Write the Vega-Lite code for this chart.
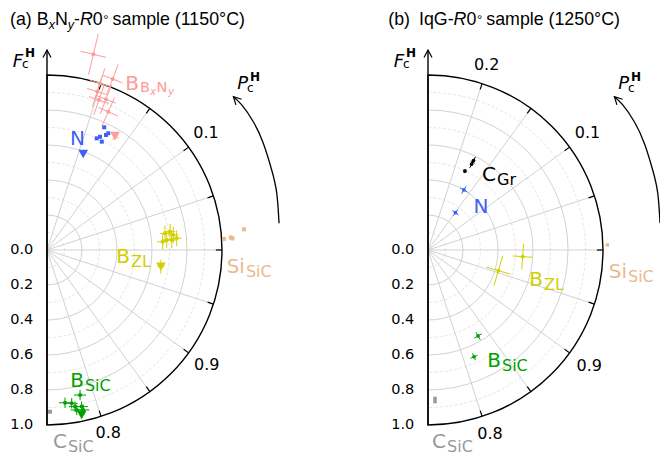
{
"$schema":"https://vega.github.io/schema/vega-lite/v6.json",
"padding":0,"spacing":0,"bounds":"flush","background":"white",
"config":{"view":{"stroke":null}},
"datasets":{
"circ_major":[{"x":0,"y":0,"r":0.2},{"x":0,"y":0,"r":0.4},{"x":0,"y":0,"r":0.6},{"x":0,"y":0,"r":0.8}],
"circ_minor":[{"x":0,"y":0,"r":0.1},{"x":0,"y":0,"r":0.3},{"x":0,"y":0,"r":0.5},{"x":0,"y":0,"r":0.7},{"x":0,"y":0,"r":0.9}],
"circ_outer":[{"x":0,"y":0,"r":1}],
"spokes":[{"x":0,"y":0,"x2":1,"y2":0},{"x":0,"y":0,"x2":0.95106,"y2":0.30902},{"x":0,"y":0,"x2":0.95106,"y2":-0.30902},{"x":0,"y":0,"x2":0.80902,"y2":0.58779},{"x":0,"y":0,"x2":0.80902,"y2":-0.58779},{"x":0,"y":0,"x2":0.58779,"y2":0.80902},{"x":0,"y":0,"x2":0.58779,"y2":-0.80902},{"x":0,"y":0,"x2":0.30902,"y2":0.95106},{"x":0,"y":0,"x2":0.30902,"y2":-0.95106}],
"ticks":[{"x":0.965,"y":0,"x2":1,"y2":0},{"x":0.91777,"y":0.2982,"x2":0.95106,"y2":0.30902},{"x":0.91777,"y":-0.2982,"x2":0.95106,"y2":-0.30902},{"x":0.7807,"y":0.56722,"x2":0.80902,"y2":0.58779},{"x":0.7807,"y":-0.56722,"x2":0.80902,"y2":-0.58779},{"x":0.56722,"y":0.7807,"x2":0.58779,"y2":0.80902},{"x":0.56722,"y":-0.7807,"x2":0.58779,"y2":-0.80902},{"x":0.2982,"y":0.91777,"x2":0.30902,"y2":0.95106},{"x":0.2982,"y":-0.91777,"x2":0.30902,"y2":-0.95106}],
"vaxis":[{"x":0,"y":-1,"x2":0,"y2":1.1429}],
"vtip":[{"x":0,"y":1.1429}],
"curve":[{"i":1,"x":1.326,"y":0.153},{"i":2,"x":1.313,"y":0.324},{"i":3,"x":1.284,"y":0.457},{"i":4,"x":1.236,"y":0.61},{"i":5,"x":1.179,"y":0.733},{"i":6,"x":1.113,"y":0.829},{"i":7,"x":1.065,"y":0.876}],
"ctip":[{"x":1.065,"y":0.876}],
"amp":[{"t":"0.0","x":-0.078,"y":0},{"t":"0.2","x":-0.078,"y":-0.2},{"t":"0.4","x":-0.078,"y":-0.4},{"t":"0.6","x":-0.078,"y":-0.6},{"t":"0.8","x":-0.078,"y":-0.8},{"t":"1.0","x":-0.078,"y":-1.0}],
"ph_a":[{"t":"0.1","x":0.909,"y":0.669},{"t":"0.9","x":0.913,"y":-0.657},{"t":"0.8","x":0.35,"y":-1.047}],
"ph_b":[{"t":"0.2","x":0.335,"y":1.057},{"t":"0.1","x":0.911,"y":0.671},{"t":"0.9","x":0.921,"y":-0.662},{"t":"0.8","x":0.354,"y":-1.053}],
"fc":[{"x":-0.137,"y":1.047}],
"pc":[{"x":1.149,"y":0.92}],
"title_a":[{"x":-0.2114,"y":1.2857}],
"title_b":[{"x":-0.2269,"y":1.2857}],
"bn":[{"x":0.526,"y":0.914}],
"lab_a":[{"main":"N","sub":"","s":"n","x":0.217,"y":0.6},{"main":"B","sub":"ZL","s":"zl","x":0.474,"y":-0.076},{"main":"Si","sub":"SiC","s":"si","x":1.131,"y":-0.13},{"main":"B","sub":"SiC","s":"bsic","x":0.211,"y":-0.781},{"main":"C","sub":"SiC","s":"csic","x":0.114,"y":-1.132},{"main":"B","sub":"","s":"bn","x":0.526,"y":0.914}],
"lab_b":[{"main":"C","sub":"Gr","s":"gr","x":0.389,"y":0.394},{"main":"N","sub":"","s":"n","x":0.345,"y":0.213},{"main":"B","sub":"ZL","s":"zl","x":0.657,"y":-0.206},{"main":"Si","sub":"SiC","s":"si","x":1.137,"y":-0.162},{"main":"B","sub":"SiC","s":"bsic","x":0.417,"y":-0.667},{"main":"C","sub":"SiC","s":"csic","x":0.103,"y":-1.132}],
"pts_a":[
{"s":"bn","x":0.265,"y":1.118},{"s":"bn","x":0.375,"y":0.977},{"s":"bn","x":0.287,"y":0.905},{"s":"bn","x":0.337,"y":0.861},{"s":"bn","x":0.297,"y":0.857},{"s":"bn","x":0.35,"y":0.79},{"s":"bn","x":0.303,"y":0.952},
{"s":"zl","x":0.674,"y":0.095},{"s":"zl","x":0.703,"y":0.105},{"s":"zl","x":0.722,"y":0.086},{"s":"zl","x":0.741,"y":0.067},{"s":"zl","x":0.684,"y":0.057},{"s":"zl","x":0.661,"y":0.047},{"s":"zl","x":0.713,"y":0.057},
{"s":"bsic","x":0.103,"y":-0.873},{"s":"bsic","x":0.141,"y":-0.876},{"s":"bsic","x":0.16,"y":-0.895},{"s":"bsic","x":0.189,"y":-0.829},{"s":"bsic","x":0.198,"y":-0.895},{"s":"bsic","x":0.207,"y":-0.914},{"s":"bsic","x":0.17,"y":-0.914}],
"sq_a":[{"s":"n","x":0.327,"y":0.701},{"s":"n","x":0.35,"y":0.667},{"s":"n","x":0.303,"y":0.647},{"s":"n","x":0.284,"y":0.638},{"s":"n","x":0.313,"y":0.619},{"s":"n","x":0.337,"y":0.657},
{"s":"si","x":1.011,"y":0.063},{"s":"si","x":1.05,"y":0.072},{"s":"si","x":1.06,"y":0.066},{"s":"si","x":1.126,"y":0.118},
{"s":"csic","x":0.017,"y":-0.924}],
"tri_a":[{"s":"bn","x":0.389,"y":0.651},{"s":"n","x":0.207,"y":0.549},{"s":"zl","x":0.651,"y":-0.095},{"s":"bsic","x":0.198,"y":-0.943}],
"err_a":[
{"s":"bn","x":0.2927,"y":1.2348,"x2":0.2373,"y2":1.0012},{"s":"bn","x":0.192,"y":1.1353,"x2":0.338,"y2":1.1007},
{"s":"bn","x":0.4072,"y":1.061,"x2":0.3428,"y2":0.893},{"s":"bn","x":0.319,"y":0.9985,"x2":0.431,"y2":0.9555},
{"s":"bn","x":0.3142,"y":0.9908,"x2":0.2598,"y2":0.8192},{"s":"bn","x":0.2298,"y":0.9231,"x2":0.3442,"y2":0.8869},
{"s":"bn","x":0.3698,"y":0.9448,"x2":0.3042,"y2":0.7772},{"s":"bn","x":0.2811,"y":0.8829,"x2":0.3929,"y2":0.8391},
{"s":"bn","x":0.3265,"y":0.942,"x2":0.2675,"y2":0.772},{"s":"bn","x":0.2403,"y":0.8767,"x2":0.3537,"y2":0.8373},
{"s":"bn","x":0.3865,"y":0.8723,"x2":0.3135,"y2":0.7077},{"s":"bn","x":0.2951,"y":0.8143,"x2":0.4049,"y2":0.7657},
{"s":"bn","x":0.3303,"y":1.0378,"x2":0.2757,"y2":0.8662},{"s":"bn","x":0.2458,"y":0.9702,"x2":0.3602,"y2":0.9338},
{"s":"bn","x":0.4018,"y":0.6725,"x2":0.3762,"y2":0.6295},{"s":"bn","x":0.3676,"y":0.6638,"x2":0.4104,"y2":0.6382},
{"s":"zl","x":0.674,"y":0.14,"x2":0.674,"y2":0.05},{"s":"zl","x":0.644,"y":0.095,"x2":0.704,"y2":0.095},
{"s":"zl","x":0.703,"y":0.15,"x2":0.703,"y2":0.06},{"s":"zl","x":0.673,"y":0.105,"x2":0.733,"y2":0.105},
{"s":"zl","x":0.722,"y":0.131,"x2":0.722,"y2":0.041},{"s":"zl","x":0.692,"y":0.086,"x2":0.752,"y2":0.086},
{"s":"zl","x":0.741,"y":0.112,"x2":0.741,"y2":0.022},{"s":"zl","x":0.711,"y":0.067,"x2":0.771,"y2":0.067},
{"s":"zl","x":0.684,"y":0.102,"x2":0.684,"y2":0.012},{"s":"zl","x":0.654,"y":0.057,"x2":0.714,"y2":0.057},
{"s":"zl","x":0.661,"y":0.092,"x2":0.661,"y2":0.002},{"s":"zl","x":0.631,"y":0.047,"x2":0.691,"y2":0.047},
{"s":"zl","x":0.713,"y":0.102,"x2":0.713,"y2":0.012},{"s":"zl","x":0.683,"y":0.057,"x2":0.743,"y2":0.057},
{"s":"zl","x":0.651,"y":-0.055,"x2":0.651,"y2":-0.135},{"s":"zl","x":0.631,"y":-0.095,"x2":0.671,"y2":-0.095},
{"s":"bsic","x":0.068,"y":-0.873,"x2":0.138,"y2":-0.873},{"s":"bsic","x":0.103,"y":-0.843,"x2":0.103,"y2":-0.903},
{"s":"bsic","x":0.106,"y":-0.876,"x2":0.176,"y2":-0.876},{"s":"bsic","x":0.141,"y":-0.846,"x2":0.141,"y2":-0.906},
{"s":"bsic","x":0.125,"y":-0.895,"x2":0.195,"y2":-0.895},{"s":"bsic","x":0.16,"y":-0.865,"x2":0.16,"y2":-0.925},
{"s":"bsic","x":0.154,"y":-0.829,"x2":0.224,"y2":-0.829},{"s":"bsic","x":0.189,"y":-0.799,"x2":0.189,"y2":-0.859},
{"s":"bsic","x":0.163,"y":-0.895,"x2":0.233,"y2":-0.895},{"s":"bsic","x":0.198,"y":-0.865,"x2":0.198,"y2":-0.925},
{"s":"bsic","x":0.172,"y":-0.914,"x2":0.242,"y2":-0.914},{"s":"bsic","x":0.207,"y":-0.884,"x2":0.207,"y2":-0.944},
{"s":"bsic","x":0.135,"y":-0.914,"x2":0.205,"y2":-0.914},{"s":"bsic","x":0.17,"y":-0.884,"x2":0.17,"y2":-0.944}],
"pts_b":[{"s":"gr","x":0.26,"y":0.511},{"s":"gr","x":0.249,"y":0.491},{"s":"gr","x":0.211,"y":0.451},{"s":"n","x":0.205,"y":0.343},{"s":"n","x":0.157,"y":0.213},{"s":"zl","x":0.541,"y":-0.038},{"s":"zl","x":0.402,"y":-0.118},{"s":"bsic","x":0.286,"y":-0.491},{"s":"bsic","x":0.263,"y":-0.61}],
"sq_b":[{"s":"si","x":1.025,"y":0.029},{"s":"csic","x":0.04,"y":-0.848},{"s":"csic","x":0.04,"y":-0.866}],
"err_b":[
{"s":"zl","x":0.5979,"y":-0.042,"x2":0.4841,"y2":-0.034},{"s":"zl","x":0.5462,"y":0.0358,"x2":0.5358,"y2":-0.1118},
{"s":"zl","x":0.4692,"y":-0.1377,"x2":0.3348,"y2":-0.0983},{"s":"zl","x":0.4271,"y":-0.0326,"x2":0.3769,"y2":-0.2034},
{"s":"n","x":0.2178,"y":0.3645,"x2":0.1922,"y2":0.3216},{"s":"n","x":0.1836,"y":0.3558,"x2":0.2265,"y2":0.3302},
{"s":"n","x":0.1701,"y":0.2307,"x2":0.1439,"y2":0.1953},{"s":"n","x":0.1393,"y":0.2261,"x2":0.1747,"y2":0.1999},
{"s":"gr","x":0.2709,"y":0.5322,"x2":0.2391,"y2":0.4698},{"s":"gr","x":0.2443,"y":0.5064,"x2":0.2657,"y2":0.4956},
{"s":"gr","x":0.2161,"y":0.4619,"x2":0.2059,"y2":0.4401},{"s":"gr","x":0.2019,"y":0.4552,"x2":0.2201,"y2":0.4468},
{"s":"bsic","x":0.2986,"y":-0.5126,"x2":0.2734,"y2":-0.4694},{"s":"bsic","x":0.3076,"y":-0.4784,"x2":0.2644,"y2":-0.5036},
{"s":"bsic","x":0.2717,"y":-0.6302,"x2":0.2543,"y2":-0.5898},{"s":"bsic","x":0.2832,"y":-0.6013,"x2":0.2428,"y2":-0.6187}]
},
"hconcat":[
{"width":330,"height":455,
"encoding":{"x":{"field":"x","type":"quantitative","scale":{"domain":[-0.26857,1.61714],"nice":false,"zero":false},"axis":null},
"y":{"field":"y","type":"quantitative","scale":{"domain":[-1.17143,1.42857],"nice":false,"zero":false},"axis":null}},
"layer":[
{"data":{"name":"circ_minor"},"mark":{"type":"arc","filled":false,"stroke":"#dddddd","strokeWidth":0.8,"strokeDash":[3,2],"theta":0,"theta2":3.14159},"encoding":{"radius":{"field":"r","type":"quantitative","stack":null,"scale":{"type":"linear","domain":[0,1],"range":[0,175]}}}},
{"data":{"name":"circ_major"},"mark":{"type":"arc","filled":false,"stroke":"#cccccc","strokeWidth":0.9,"theta":0,"theta2":3.14159},"encoding":{"radius":{"field":"r","type":"quantitative","stack":null,"scale":{"type":"linear","domain":[0,1],"range":[0,175]}}}},
{"data":{"name":"spokes"},"mark":{"type":"rule","color":"#cccccc","strokeWidth":0.9},"encoding":{"x2":{"field":"x2"},"y2":{"field":"y2"}}},
{"data":{"name":"circ_outer"},"mark":{"type":"arc","filled":false,"stroke":"black","strokeWidth":1.4,"theta":0,"theta2":3.14159},"encoding":{"radius":{"field":"r","type":"quantitative","stack":null,"scale":{"type":"linear","domain":[0,1],"range":[0,175]}}}},
{"data":{"name":"ticks"},"mark":{"type":"rule","color":"black","strokeWidth":1.2},"encoding":{"x2":{"field":"x2"},"y2":{"field":"y2"}}},
{"data":{"name":"vaxis"},"mark":{"type":"rule","color":"black","strokeWidth":1.4},"encoding":{"x2":{"field":"x2"},"y2":{"field":"y2"}}},
{"data":{"name":"vtip"},"mark":{"type":"point","shape":"M-0.5,0.95L0,0L0.5,0.95","size":256,"filled":false,"stroke":"black","strokeWidth":1.2,"opacity":1},"encoding":{}},
{"data":{"name":"curve"},"mark":{"type":"line","interpolate":"natural","color":"black","strokeWidth":1.3},"encoding":{"order":{"field":"i","type":"quantitative"}}},
{"data":{"name":"ctip"},"mark":{"type":"point","shape":"M-0.5,0.95L0,0L0.5,0.95","size":256,"filled":false,"stroke":"black","strokeWidth":1.2,"opacity":1,"angle":-45},"encoding":{}},
{"data":{"name":"err_a"},"mark":{"type":"rule","strokeWidth":1},"encoding":{"x2":{"field":"x2"},"y2":{"field":"y2"},"color":{"field":"s","type":"nominal","scale":{"domain":["bn","n","zl","si","bsic","csic","gr"],"range":["#ff9a9a","#3f5ff5","#d0d000","#ebb98c","#00a000","#999999","#000000"]},"legend":null}}},
{"data":{"name":"pts_a"},"mark":{"type":"point","filled":true,"shape":"circle","size":16,"opacity":1},"encoding":{"color":{"field":"s","type":"nominal","scale":{"domain":["bn","n","zl","si","bsic","csic","gr"],"range":["#ff9a9a","#3f5ff5","#d0d000","#ebb98c","#00a000","#999999","#000000"]},"legend":null}}},
{"data":{"name":"sq_a"},"mark":{"type":"point","filled":true,"shape":"square","size":16,"opacity":1},"encoding":{"color":{"field":"s","type":"nominal","scale":{"domain":["bn","n","zl","si","bsic","csic","gr"],"range":["#ff9a9a","#3f5ff5","#d0d000","#ebb98c","#00a000","#999999","#000000"]},"legend":null}}},
{"data":{"name":"tri_a"},"mark":{"type":"point","filled":true,"shape":"triangle-down","size":95,"opacity":1},"encoding":{"color":{"field":"s","type":"nominal","scale":{"domain":["bn","n","zl","si","bsic","csic","gr"],"range":["#ff9a9a","#3f5ff5","#d0d000","#ebb98c","#00a000","#999999","#000000"]},"legend":null}}},
{"data":{"name":"amp"},"mark":{"type":"text","align":"right","baseline":"middle","font":"DejaVu Sans","fontSize":14.5,"color":"black"},"encoding":{"text":{"field":"t"}}},
{"data":{"name":"ph_a"},"mark":{"type":"text","align":"center","baseline":"middle","font":"DejaVu Sans","fontSize":16,"color":"black"},"encoding":{"text":{"field":"t"}}},
{"data":{"name":"fc"},"mark":{"type":"text","align":"right","baseline":"alphabetic","font":"DejaVu Sans","fontSize":18,"fontStyle":"italic","color":"black","text":"F"},"encoding":{}},
{"data":{"name":"fc"},"mark":{"type":"text","align":"left","baseline":"alphabetic","font":"DejaVu Sans","fontSize":12,"color":"black","text":"c","dx":-1,"dy":1},"encoding":{}},
{"data":{"name":"fc"},"mark":{"type":"text","align":"left","baseline":"alphabetic","font":"DejaVu Sans","fontSize":12,"fontWeight":"bold","color":"black","text":"H","dx":2,"dy":-9.5},"encoding":{}},
{"data":{"name":"pc"},"mark":{"type":"text","align":"right","baseline":"alphabetic","font":"DejaVu Sans","fontSize":18,"fontStyle":"italic","color":"black","text":"P"},"encoding":{}},
{"data":{"name":"pc"},"mark":{"type":"text","align":"left","baseline":"alphabetic","font":"DejaVu Sans","fontSize":12,"color":"black","text":"c","dx":-1,"dy":2.7},"encoding":{}},
{"data":{"name":"pc"},"mark":{"type":"text","align":"left","baseline":"alphabetic","font":"DejaVu Sans","fontSize":12,"fontWeight":"bold","color":"black","text":"H","dx":2,"dy":-8.3},"encoding":{}},
{"data":{"name":"lab_a"},"mark":{"type":"text","align":"right","baseline":"alphabetic","font":"DejaVu Sans","fontSize":20},"encoding":{"text":{"field":"main"},"color":{"field":"s","type":"nominal","scale":{"domain":["bn","n","zl","si","bsic","csic","gr"],"range":["#ff9a9a","#3f5ff5","#d0d000","#ebb98c","#00a000","#999999","#000000"]},"legend":null}}},
{"data":{"name":"lab_a"},"mark":{"type":"text","align":"left","baseline":"alphabetic","font":"DejaVu Sans","fontSize":16,"dx":1,"dy":4},"encoding":{"text":{"field":"sub"},"color":{"field":"s","type":"nominal","scale":{"domain":["bn","n","zl","si","bsic","csic","gr"],"range":["#ff9a9a","#3f5ff5","#d0d000","#ebb98c","#00a000","#999999","#000000"]},"legend":null}}},
{"data":{"name":"bn"},"mark":{"type":"text","align":"left","baseline":"alphabetic","font":"DejaVu Sans","fontSize":14.5,"color":"#ff9a9a","text":"B","dx":1,"dy":2},"encoding":{}},
{"data":{"name":"bn"},"mark":{"type":"text","align":"left","baseline":"alphabetic","font":"DejaVu Sans","fontSize":10.5,"fontStyle":"italic","color":"#ff9a9a","text":"x","dx":11,"dy":5},"encoding":{}},
{"data":{"name":"bn"},"mark":{"type":"text","align":"left","baseline":"alphabetic","font":"DejaVu Sans","fontSize":14.5,"color":"#ff9a9a","text":"N","dx":17.5,"dy":2},"encoding":{}},
{"data":{"name":"bn"},"mark":{"type":"text","align":"left","baseline":"alphabetic","font":"DejaVu Sans","fontSize":10.5,"fontStyle":"italic","color":"#ff9a9a","text":"y","dx":29,"dy":5},"encoding":{}},
{"data":{"name":"title_a"},"mark":{"type":"text","align":"left","baseline":"alphabetic","font":"Liberation Sans","fontSize":17.8,"color":"black","text":"(a) B"},"encoding":{}},
{"data":{"name":"title_a"},"mark":{"type":"text","align":"left","baseline":"alphabetic","font":"Liberation Sans","fontSize":12.5,"fontStyle":"italic","color":"black","text":"x","dx":38.8,"dy":3.5},"encoding":{}},
{"data":{"name":"title_a"},"mark":{"type":"text","align":"left","baseline":"alphabetic","font":"Liberation Sans","fontSize":17.8,"color":"black","text":"N","dx":44.9},"encoding":{}},
{"data":{"name":"title_a"},"mark":{"type":"text","align":"left","baseline":"alphabetic","font":"Liberation Sans","fontSize":12.5,"fontStyle":"italic","color":"black","text":"y","dx":57.8,"dy":3.5},"encoding":{}},
{"data":{"name":"title_a"},"mark":{"type":"text","align":"left","baseline":"alphabetic","font":"Liberation Sans","fontSize":17.8,"color":"black","text":"-","dx":64},"encoding":{}},
{"data":{"name":"title_a"},"mark":{"type":"text","align":"left","baseline":"alphabetic","font":"Liberation Sans","fontSize":17.8,"fontStyle":"italic","color":"black","text":"R","dx":69.9},"encoding":{}},
{"data":{"name":"title_a"},"mark":{"type":"text","align":"left","baseline":"alphabetic","font":"Liberation Sans","fontSize":17.8,"color":"black","text":"0","dx":82.7},"encoding":{}},
{"data":{"name":"title_a"},"mark":{"type":"text","align":"left","baseline":"alphabetic","font":"Liberation Sans","fontSize":13,"color":"black","text":"°","dx":93.2,"dy":-1},"encoding":{}},
{"data":{"name":"title_a"},"mark":{"type":"text","align":"left","baseline":"alphabetic","font":"Liberation Sans","fontSize":17.8,"color":"black","text":"sample (1150°C)","dx":102.6},"encoding":{}}
]},
{"width":330,"height":455,
"encoding":{"x":{"field":"x","type":"quantitative","scale":{"domain":[-0.56,1.32571],"nice":false,"zero":false},"axis":null},
"y":{"field":"y","type":"quantitative","scale":{"domain":[-1.17143,1.42857],"nice":false,"zero":false},"axis":null}},
"layer":[
{"data":{"name":"circ_minor"},"mark":{"type":"arc","filled":false,"stroke":"#dddddd","strokeWidth":0.8,"strokeDash":[3,2],"theta":0,"theta2":3.14159},"encoding":{"radius":{"field":"r","type":"quantitative","stack":null,"scale":{"type":"linear","domain":[0,1],"range":[0,175]}}}},
{"data":{"name":"circ_major"},"mark":{"type":"arc","filled":false,"stroke":"#cccccc","strokeWidth":0.9,"theta":0,"theta2":3.14159},"encoding":{"radius":{"field":"r","type":"quantitative","stack":null,"scale":{"type":"linear","domain":[0,1],"range":[0,175]}}}},
{"data":{"name":"spokes"},"mark":{"type":"rule","color":"#cccccc","strokeWidth":0.9},"encoding":{"x2":{"field":"x2"},"y2":{"field":"y2"}}},
{"data":{"name":"circ_outer"},"mark":{"type":"arc","filled":false,"stroke":"black","strokeWidth":1.4,"theta":0,"theta2":3.14159},"encoding":{"radius":{"field":"r","type":"quantitative","stack":null,"scale":{"type":"linear","domain":[0,1],"range":[0,175]}}}},
{"data":{"name":"ticks"},"mark":{"type":"rule","color":"black","strokeWidth":1.2},"encoding":{"x2":{"field":"x2"},"y2":{"field":"y2"}}},
{"data":{"name":"vaxis"},"mark":{"type":"rule","color":"black","strokeWidth":1.4},"encoding":{"x2":{"field":"x2"},"y2":{"field":"y2"}}},
{"data":{"name":"vtip"},"mark":{"type":"point","shape":"M-0.5,0.95L0,0L0.5,0.95","size":256,"filled":false,"stroke":"black","strokeWidth":1.2,"opacity":1},"encoding":{}},
{"data":{"name":"curve"},"mark":{"type":"line","interpolate":"natural","color":"black","strokeWidth":1.3,"clip":true},"encoding":{"order":{"field":"i","type":"quantitative"}}},
{"data":{"name":"ctip"},"mark":{"type":"point","shape":"M-0.5,0.95L0,0L0.5,0.95","size":256,"filled":false,"stroke":"black","strokeWidth":1.2,"opacity":1,"angle":-45},"encoding":{}},
{"data":{"name":"err_b"},"mark":{"type":"rule","strokeWidth":1},"encoding":{"x2":{"field":"x2"},"y2":{"field":"y2"},"color":{"field":"s","type":"nominal","scale":{"domain":["bn","n","zl","si","bsic","csic","gr"],"range":["#ff9a9a","#3f5ff5","#d0d000","#ebb98c","#00a000","#999999","#000000"]},"legend":null}}},
{"data":{"name":"pts_b"},"mark":{"type":"point","filled":true,"shape":"circle","size":14,"opacity":1},"encoding":{"color":{"field":"s","type":"nominal","scale":{"domain":["bn","n","zl","si","bsic","csic","gr"],"range":["#ff9a9a","#3f5ff5","#d0d000","#ebb98c","#00a000","#999999","#000000"]},"legend":null}}},
{"data":{"name":"sq_b"},"mark":{"type":"point","filled":true,"shape":"square","size":12,"opacity":1},"encoding":{"color":{"field":"s","type":"nominal","scale":{"domain":["bn","n","zl","si","bsic","csic","gr"],"range":["#ff9a9a","#3f5ff5","#d0d000","#ebb98c","#00a000","#999999","#000000"]},"legend":null}}},
{"data":{"name":"amp"},"mark":{"type":"text","align":"right","baseline":"middle","font":"DejaVu Sans","fontSize":14.5,"color":"black"},"encoding":{"text":{"field":"t"}}},
{"data":{"name":"ph_b"},"mark":{"type":"text","align":"center","baseline":"middle","font":"DejaVu Sans","fontSize":16,"color":"black"},"encoding":{"text":{"field":"t"}}},
{"data":{"name":"fc"},"mark":{"type":"text","align":"right","baseline":"alphabetic","font":"DejaVu Sans","fontSize":18,"fontStyle":"italic","color":"black","text":"F"},"encoding":{}},
{"data":{"name":"fc"},"mark":{"type":"text","align":"left","baseline":"alphabetic","font":"DejaVu Sans","fontSize":12,"color":"black","text":"c","dx":-1,"dy":1},"encoding":{}},
{"data":{"name":"fc"},"mark":{"type":"text","align":"left","baseline":"alphabetic","font":"DejaVu Sans","fontSize":12,"fontWeight":"bold","color":"black","text":"H","dx":2,"dy":-9.5},"encoding":{}},
{"data":{"name":"pc"},"mark":{"type":"text","align":"right","baseline":"alphabetic","font":"DejaVu Sans","fontSize":18,"fontStyle":"italic","color":"black","text":"P"},"encoding":{}},
{"data":{"name":"pc"},"mark":{"type":"text","align":"left","baseline":"alphabetic","font":"DejaVu Sans","fontSize":12,"color":"black","text":"c","dx":-1,"dy":2.7},"encoding":{}},
{"data":{"name":"pc"},"mark":{"type":"text","align":"left","baseline":"alphabetic","font":"DejaVu Sans","fontSize":12,"fontWeight":"bold","color":"black","text":"H","dx":2,"dy":-8.3},"encoding":{}},
{"data":{"name":"lab_b"},"mark":{"type":"text","align":"right","baseline":"alphabetic","font":"DejaVu Sans","fontSize":20},"encoding":{"text":{"field":"main"},"color":{"field":"s","type":"nominal","scale":{"domain":["bn","n","zl","si","bsic","csic","gr"],"range":["#ff9a9a","#3f5ff5","#d0d000","#ebb98c","#00a000","#999999","#000000"]},"legend":null}}},
{"data":{"name":"lab_b"},"mark":{"type":"text","align":"left","baseline":"alphabetic","font":"DejaVu Sans","fontSize":16,"dx":1,"dy":4},"encoding":{"text":{"field":"sub"},"color":{"field":"s","type":"nominal","scale":{"domain":["bn","n","zl","si","bsic","csic","gr"],"range":["#ff9a9a","#3f5ff5","#d0d000","#ebb98c","#00a000","#999999","#000000"]},"legend":null}}},
{"data":{"name":"title_b"},"mark":{"type":"text","align":"left","baseline":"alphabetic","font":"Liberation Sans","fontSize":17.8,"color":"black","text":"(b)"},"encoding":{}},
{"data":{"name":"title_b"},"mark":{"type":"text","align":"left","baseline":"alphabetic","font":"Liberation Sans","fontSize":17.8,"color":"black","text":"IqG-","dx":30.7},"encoding":{}},
{"data":{"name":"title_b"},"mark":{"type":"text","align":"left","baseline":"alphabetic","font":"Liberation Sans","fontSize":17.8,"fontStyle":"italic","color":"black","text":"R","dx":65.3},"encoding":{}},
{"data":{"name":"title_b"},"mark":{"type":"text","align":"left","baseline":"alphabetic","font":"Liberation Sans","fontSize":17.8,"color":"black","text":"0","dx":78.2},"encoding":{}},
{"data":{"name":"title_b"},"mark":{"type":"text","align":"left","baseline":"alphabetic","font":"Liberation Sans","fontSize":13,"color":"black","text":"°","dx":88.6,"dy":-1},"encoding":{}},
{"data":{"name":"title_b"},"mark":{"type":"text","align":"left","baseline":"alphabetic","font":"Liberation Sans","fontSize":17.8,"color":"black","text":"sample (1250°C)","dx":98},"encoding":{}}
]}
]
}
